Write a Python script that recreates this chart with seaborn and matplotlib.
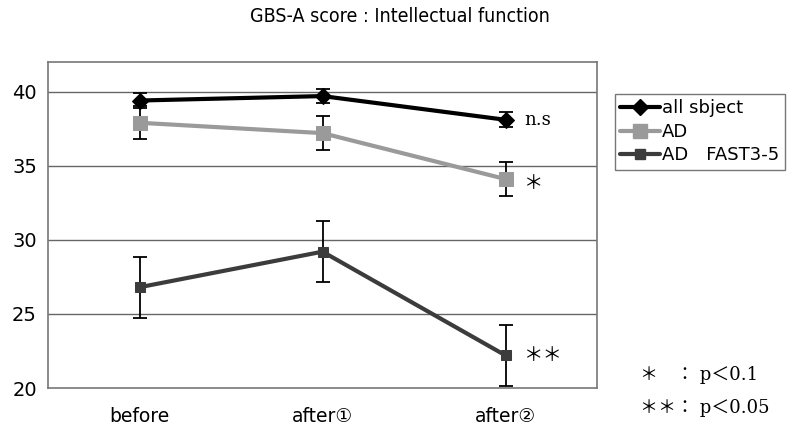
import numpy as np
import pandas as pd
import matplotlib
matplotlib.use("Agg")
import matplotlib.pyplot as plt
import seaborn as sns
from matplotlib.lines import Line2D

# ----------------------------------------------------------
# Data
# ----------------------------------------------------------
stages = ["before", "after①", "after②"]
groups = ["all sbject", "AD", "AD　FAST3-5"]

all_mean = [39.4, 39.7, 38.1]
all_err = [0.5, 0.5, 0.5]
ad_mean = [37.9, 37.2, 34.1]
ad_err = [1.1, 1.15, 1.15]
fast_mean = [26.8, 29.2, 22.2]
fast_err = [2.05, 2.05, 2.05]

sig_labels = ["n.s", "＊", "＊＊"]

means = [all_mean, ad_mean, fast_mean]
errs = [all_err, ad_err, fast_err]

df = pd.DataFrame({
    "stage": np.tile(np.arange(len(stages)), len(groups)),
    "score": np.concatenate(means),
    "err": np.concatenate(errs),
    "group": np.repeat(groups, len(stages)),
})

colors = {"all sbject": "#000000", "AD": "#9a9a9a", "AD　FAST3-5": "#3c3c3c"}
markers = {"all sbject": "D", "AD": "s", "AD　FAST3-5": "s"}
msizes = {"all sbject": 8, "AD": 10, "AD　FAST3-5": 7}

sns.set_style("white")
plt.rcParams["font.family"] = ["DejaVu Sans", "Noto Sans CJK JP"]
plt.rcParams["text.color"] = "black"
plt.rcParams["xtick.color"] = "black"
plt.rcParams["ytick.color"] = "black"
plt.rcParams["xtick.labelcolor"] = "black"
plt.rcParams["ytick.labelcolor"] = "black"

fig = plt.figure(figsize=(8.05, 4.28), dpi=100)
ax = fig.add_axes([48 / 805, 1 - 388 / 428, 549 / 805, 326 / 428])

for y in [25, 30, 35, 40]:
    ax.axhline(y, color="#666666", lw=1, zorder=0)

for g in groups:
    sub = df[df["group"] == g]
    ax.errorbar(sub["stage"], sub["score"], yerr=sub["err"], fmt="none",
                ecolor="black", elinewidth=1.3, capsize=5, capthick=1.3, zorder=2)

sns.lineplot(data=df, x="stage", y="score", hue="group", style="group",
             palette=colors, markers=markers, dashes=False, linewidth=3,
             ax=ax, legend=False, zorder=3)

# fix marker sizes per group
for line, g in zip(ax.get_lines()[-len(groups):], groups):
    line.set_markersize(msizes[g])
    line.set_markeredgecolor(colors[g])

# significance marks after the last point
last = len(stages) - 1
ax.text(last + 0.1, all_mean[-1], sig_labels[0], family="DejaVu Serif",
        fontsize=13, va="center", ha="left")
ax.text(last + 0.1, ad_mean[-1] - 0.3, sig_labels[1], family="Noto Sans CJK JP",
        fontsize=14, va="center", ha="left")
ax.text(last + 0.1, fast_mean[-1], sig_labels[2], family="Noto Sans CJK JP",
        fontsize=14, va="center", ha="left")

ax.set_xlim(-0.5, len(stages) - 0.5)
ax.set_ylim(20, 42)
ax.set_yticks([20, 25, 30, 35, 40])
ax.set_xticks(range(len(stages)))
ax.set_xticklabels(stages)
ax.set_xticks([0.5, 1.5], minor=True)
ax.tick_params(axis="x", which="major", length=0, pad=14, labelsize=13.5)
ax.tick_params(axis="x", which="minor", length=5, direction="in", color="#666666")
ax.tick_params(axis="y", length=0, pad=8, labelsize=14)
ax.set_xlabel("")
ax.set_ylabel("")
for s in ax.spines.values():
    s.set_color("#777777")
    s.set_linewidth(1.2)

# legend
handles = [Line2D([0], [0], color=colors[g], marker=markers[g], lw=3,
                  markersize=msizes[g], markeredgecolor=colors[g]) for g in groups]
fig.legend(handles, groups, loc="upper left", bbox_to_anchor=(615 / 805, 1 - 94 / 428),
           frameon=True, fancybox=False, edgecolor="#555555", fontsize=13,
           handlelength=2.2, handletextpad=0.1, borderpad=0.3, labelspacing=0.3,
           borderaxespad=0)

fig.text(400 / 805, 1 - 17 / 428, "GBS-A score : Intellectual function",
         ha="center", va="center", fontsize=14, fontstretch="condensed")
fig.text(640 / 805, 1 - 375 / 428, "＊　： p＜0.1",
         family=["DejaVu Serif", "Noto Sans CJK JP"], fontsize=13, va="center")
fig.text(640 / 805, 1 - 408 / 428, "＊＊： p＜0.05",
         family=["DejaVu Serif", "Noto Sans CJK JP"], fontsize=13, va="center")

fig.savefig("out.png", dpi=100)
